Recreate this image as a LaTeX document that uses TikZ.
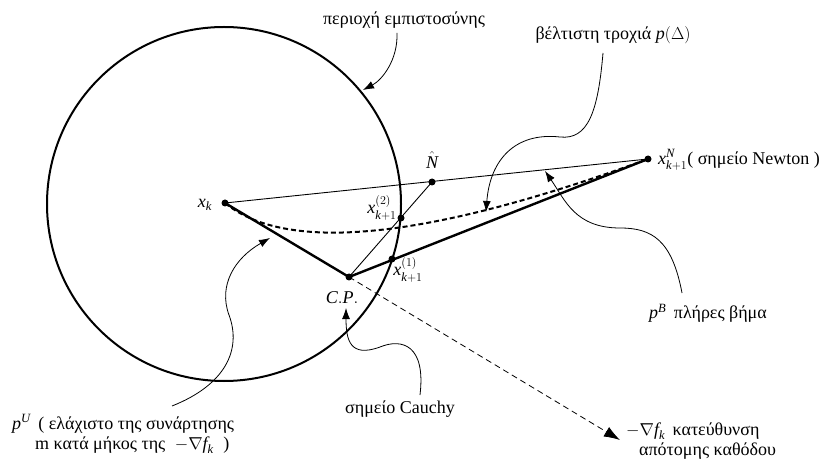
\documentclass[tikz,border=0pt]{standalone}
\usepackage{amsmath}
\usepackage{fontspec}
\setmainfont{Liberation Serif}
\usetikzlibrary{arrows.meta}
\newcommand{\mi}[1]{\textit{#1}}
\begin{document}
\begin{tikzpicture}[x=1pt,y=-1pt,
  every node/.style={font=\rmfamily\fontsize{18}{20}\selectfont, inner sep=0pt},
  dot/.style={circle,fill,inner sep=0pt,minimum size=7pt},
  thickseg/.style={line width=2.4pt},
  thinseg/.style={line width=0.9pt},
  ring/.style={line width=2pt},
  optpath/.style={line width=2pt, dash pattern=on 5pt off 3pt},
  graddir/.style={line width=0.8pt, dash pattern=on 6pt off 4pt, -{Latex[length=16pt,width=11pt]}},
  callout/.style={line width=0.8pt, -{Latex[length=11pt,width=8pt]}}
]
\useasboundingbox (0,0) rectangle (827,462);
% trust region
\coordinate (c) at (224,204);
\draw[ring] (c) circle[radius=177];
% points
\node[dot] (xk) at (225,203) {};
\node[dot] (cp) at (349,277) {};
\node[dot] (xn) at (648,159) {};
\node[dot] (nh) at (432,182) {};
\node[dot] (x2) at (401,218) {};
\node[dot] (x1) at (392,259) {};
% lines
\draw[thinseg] (xk.center) -- (xn.center);
\draw[thinseg] (cp.center) -- (nh.center);
\draw[thickseg] (xk.center) -- (cp.center) -- (xn.center);
\draw[optpath] (xk.center) .. controls (280,248) and (405,248) .. (xn.center);
\coordinate (gtip) at (620,440);
\draw[graddir] (cp.center) -- (gtip);
% labels at points
\node (lxk) at (205,205) {$\mi{x}_{\mi{k}}$};
\node (lnh) at (432,160) {$\hat{\mi{N}}$};
\node (lx2) at (382,208) {$\mi{x}^{(2)}_{\mi{k}+1}$};
\node (lx1) at (408,270) {$\mi{x}^{(1)}_{\mi{k}+1}$};
\node (lcp) at (342,298) {$\mi{C}.\mi{P}.$};
\node[anchor=west] (lxn) at (658,160) {$\mi{x}^{\mi{N}}_{\mi{k}+1}$( σημείο Newton )};
% annotation texts
\node (ttr) at (404,20) {περιοχή εμπιστοσύνης};
\node (topt) at (613,35) {βέλτιστη τροχιά $\mi{p}(\Delta)$};
\node (tpb) at (708,313) {$\mi{p}^{\mi{B}}$\, πλήρες βήμα};
\node (tcau) at (400,409) {σημείο Cauchy};
\node[anchor=west, align=left] (tpu) at (12,434) {$\mi{p}^{\mi{U}}$\, ( ελάχιστο της συνάρτησης\\\hspace*{23pt}m κατά μήκος της \;$-\nabla \mi{f}_{\mi{k}}$\; )};
\node[anchor=west, align=left] (tgr) at (626,441) {$-\nabla \mi{f}_{\mi{k}}$\, κατεύθυνση\\\hspace*{13pt}απότομης καθόδου};
% callouts
\coordinate (a1s) at (397,33);
\coordinate (a1e) at (363,90);
\draw[callout] (a1s) .. controls (398,60) and (382,80) .. (a1e);
\coordinate (a2s) at (603,53);
\coordinate (a2e) at (486,212);
\draw[callout] (a2s) .. controls (598,112) and (588,140) .. (560,137) .. controls (515,132) and (490,160) .. (a2e);
\coordinate (a3s) at (682,293);
\coordinate (a3e) at (545,171);
\draw[callout] (a3s) .. controls (672,240) and (652,228) .. (620,228) .. controls (575,228) and (565,200) .. (a3e);
\coordinate (a4s) at (420,395);
\coordinate (a4e) at (346,308);
\draw[callout] (a4s) .. controls (426,345) and (402,338) .. (380,347) .. controls (350,358) and (346,340) .. (a4e);
\coordinate (a5s) at (172,406);
\coordinate (a5e) at (270,238);
\draw[callout] (a5s) .. controls (225,385) and (242,350) .. (229,315) .. controls (218,285) and (235,258) .. (a5e);
\end{tikzpicture}
\end{document}
